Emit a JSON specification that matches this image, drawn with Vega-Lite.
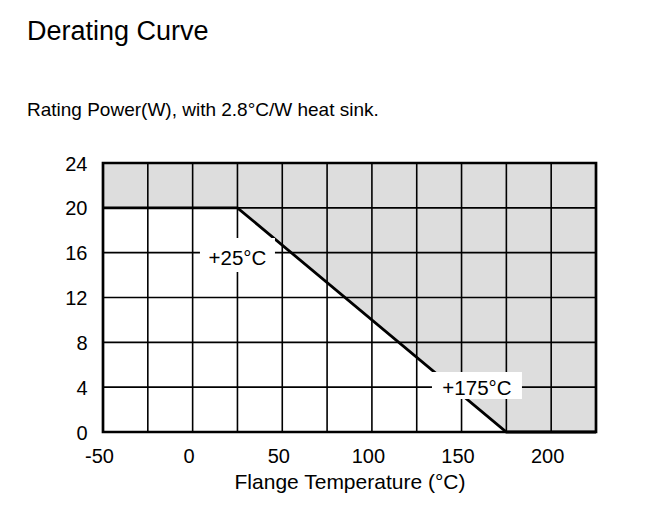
{
  "$schema": "https://vega.github.io/schema/vega-lite/v6.json",
  "width": 493,
  "height": 269,
  "autosize": {"type": "none"},
  "padding": {"left": 103, "top": 163, "right": 61, "bottom": 79},
  "background": "white",
  "config": {
    "font": "Liberation Sans",
    "view": {"stroke": null}
  },
  "title": {
    "text": "Derating Curve",
    "subtitle": "Rating Power(W), with 2.8°C/W heat sink.",
    "anchor": "start",
    "frame": "group",
    "dx": -76,
    "offset": 33,
    "fontSize": 27,
    "fontWeight": "normal",
    "color": "black",
    "subtitleFontSize": 19,
    "subtitleColor": "black",
    "subtitlePadding": 55
  },
  "datasets": {
    "curve": [
      {"temp": -50, "power": 20},
      {"temp": 25, "power": 20},
      {"temp": 175, "power": 0},
      {"temp": 225, "power": 0}
    ],
    "vgrid": [
      {"temp": -25}, {"temp": 0}, {"temp": 25}, {"temp": 50}, {"temp": 75},
      {"temp": 100}, {"temp": 125}, {"temp": 150}, {"temp": 175}, {"temp": 200}
    ],
    "hgrid": [
      {"power": 4}, {"power": 8}, {"power": 12}, {"power": 16}, {"power": 20}
    ],
    "labels": [
      {"label": "+25°C", "temp": 25, "power": 15.79},
      {"label": "+175°C", "temp": 158.6, "power": 4.15}
    ]
  },
  "layer": [
    {
      "data": {"name": "curve"},
      "mark": {"type": "area", "fill": "#dddddd", "stroke": null},
      "encoding": {
        "x": {
          "field": "temp",
          "type": "quantitative",
          "title": "Flange Temperature (°C)",
          "scale": {"domain": [-50, 225], "nice": false, "zero": false},
          "axis": {
            "values": [-50, 0, 50, 100, 150, 200],
            "labelExpr": "'' + datum.value",
            "grid": false,
            "ticks": false,
            "domain": false,
            "labelFontSize": 20,
            "labelColor": "black",
            "labelPadding": 14,
            "labelOffset": -4,
            "labelFlush": false,
            "titleFontSize": 21,
            "titleFontWeight": "normal",
            "titleColor": "black",
            "titlePadding": 5
          }
        },
        "y": {
          "field": "power",
          "type": "quantitative",
          "title": null,
          "scale": {"domain": [0, 24], "nice": false},
          "axis": {
            "values": [0, 4, 8, 12, 16, 20, 24],
            "grid": false,
            "ticks": false,
            "domain": false,
            "labelFontSize": 20,
            "labelColor": "black",
            "labelPadding": 16,
            "labelFlush": false,
            "labelOffset": 1
          }
        },
        "y2": {"datum": 24}
      }
    },
    {
      "data": {"name": "vgrid"},
      "mark": {"type": "rule", "color": "black", "strokeWidth": 1.6},
      "encoding": {
        "x": {"field": "temp", "type": "quantitative", "title": "Flange Temperature (°C)"}
      }
    },
    {
      "data": {"name": "hgrid"},
      "mark": {"type": "rule", "color": "black", "strokeWidth": 1.6},
      "encoding": {
        "y": {"field": "power", "type": "quantitative", "title": null}
      }
    },
    {
      "data": {"name": "curve"},
      "mark": {"type": "line", "color": "black", "strokeWidth": 2.8},
      "encoding": {
        "x": {"field": "temp", "type": "quantitative", "title": "Flange Temperature (°C)"},
        "y": {"field": "power", "type": "quantitative", "title": null}
      }
    },
    {
      "data": {"name": "labels"},
      "mark": {"type": "point", "filled": true, "fill": "white", "opacity": 1, "strokeWidth": 0},
      "encoding": {
        "x": {"field": "temp", "type": "quantitative", "title": "Flange Temperature (°C)"},
        "y": {"field": "power", "type": "quantitative", "title": null},
        "shape": {
          "field": "label",
          "type": "nominal",
          "scale": {"domain": ["+25°C", "+175°C"], "range": ["M-1,-0.453H1V0.453H-1Z", "M-1,-0.3H1V0.3H-1Z"]},
          "legend": null
        },
        "size": {
          "field": "label",
          "type": "nominal",
          "scale": {"domain": ["+25°C", "+175°C"], "range": [5625, 8100]},
          "legend": null
        }
      }
    },
    {
      "data": {"name": "labels"},
      "mark": {"type": "text", "fontSize": 20.5, "color": "black", "align": "center", "baseline": "middle", "dy": 4},
      "encoding": {
        "x": {"field": "temp", "type": "quantitative", "title": "Flange Temperature (°C)"},
        "y": {"field": "power", "type": "quantitative", "title": null},
        "text": {"field": "label"}
      }
    },
    {
      "data": {"values": [{}]},
      "mark": {"type": "rect", "fill": null, "fillOpacity": 0, "stroke": "black", "strokeWidth": 2.7},
      "encoding": {
        "x": {"datum": -50},
        "x2": {"datum": 225},
        "y": {"datum": 0},
        "y2": {"datum": 24}
      }
    }
  ]
}
